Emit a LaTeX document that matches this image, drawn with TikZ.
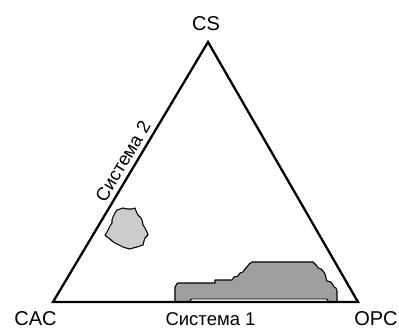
\documentclass[tikz,border=0pt]{standalone}
\usepackage{fontspec}
\setmainfont{Liberation Sans}
\usetikzlibrary{calc}
\begin{document}
\begin{tikzpicture}[x=1pt,y=-1pt,
  lbl/.style={font=\fontsize{20}{22}\selectfont, inner sep=0pt},
  sys/.style={font=\fontsize{18.5}{20}\selectfont, inner sep=0pt},
  edge/.style={line width=2.3pt, line join=miter},
  region/.style={draw=black, line width=1.1pt, line join=round}]
\useasboundingbox (0,0) rectangle (399,329);
\coordinate (A) at (53,302);
\coordinate (B) at (358,302);
\coordinate (C) at (208,42);
% bottom region
\draw[region, fill=gray!75] (175,302) -- (175,287) to[out=-90,in=180] (178,283) -- (215,283) -- (215,280) -- (232,280)
  -- (234,277) -- (238,276) -- (240,273) -- (243,272) -- (245,269) -- (247,267) -- (249,264) -- (252,262) -- (313,262)
  -- (315,264) -- (317,266) -- (318,268) -- (321,269) -- (323,271) -- (325,274) -- (326,278) -- (327,281) -- (331,282)
  -- (333,285) -- (334,287) -- (336,288) -- (337,291) -- (337,302) -- cycle;
\draw[line width=0.9pt, fill=white, rounded corners=2pt] (190,302) -- (190,299) -- (328,299) -- (328,302);
% small blob
\draw[region, fill=gray!40] (115,213) -- (117,210) -- (120,209) -- (123,208) -- (127,209) -- (132,209) -- (135,208)
  -- (136,211) -- (138,215) -- (141,218) -- (142,220) -- (143,225) -- (145,228) -- (147,232) -- (148,235) -- (145,238)
  -- (144,241) -- (143,245) -- (140,246) -- (137,247) -- (133,248) -- (130,249) -- (126,248) -- (123,247) -- (119,245)
  -- (115,243) -- (112,241) -- (110,239) -- (107,237) -- (105,235) -- (107,232) -- (108,230) -- (110,226) -- (112,223)
  -- (112,220) -- (113,217) -- cycle;
% triangle
\draw[edge] (A) -- (B) -- (C) -- cycle;
% labels
\node[lbl] (cs) at (206,24) {CS};
\node[lbl] (cac) at (35.5,318.5) {CAC};
\node[lbl] (opc) at (376,319) {OPC};
\node[sys] (s1) at (210.5,319.5) {Система 1};
\node[sys, rotate=59.2] (s2) at (122.9,161.4) {Система 2};
\end{tikzpicture}
\end{document}
